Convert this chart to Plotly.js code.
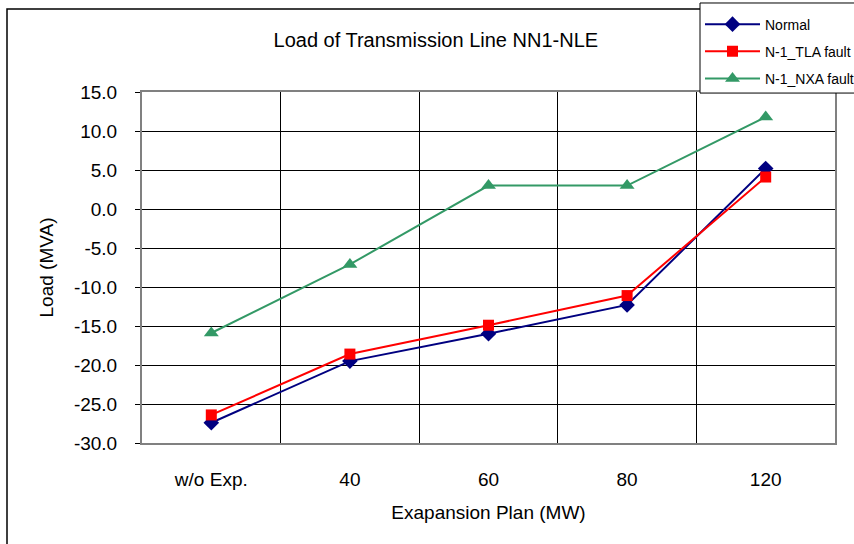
<!DOCTYPE html>
<html>
<head>
<meta charset="utf-8">
<script src="https://cdn.plot.ly/plotly-3.0.1.min.js"></script>
<style>html,body{margin:0;padding:0;background:#fff;}#chart{width:854px;height:544px;}</style>
</head>
<body>
<div id="chart"></div>
<script>
var categories = ["w/o Exp.", "40", "60", "80", "120"];
var normal = [-27.4, -19.5, -16.0, -12.3, 5.2];
var tlaFault = [-26.4, -18.6, -14.9, -11.1, 4.1];
var nxaFault = [-15.9, -7.1, 3.0, 3.0, 11.8];
var yTickVals = [-30, -25, -20, -15, -10, -5, 0, 5, 10, 15];
var yTickText = ["-30.0", "-25.0", "-20.0", "-15.0", "-10.0", "-5.0", "0.0", "5.0", "10.0", "15.0"];

var font = "Liberation Sans, Arial, sans-serif";
var traces = [
  {x: categories, y: normal, name: "Normal", type: "scatter", mode: "lines+markers", legendgroup: "a",
   line: {color: "#000080", width: 2}, marker: {symbol: "diamond", size: 12, color: "#000080"}},
  {x: categories, y: tlaFault, name: "N-1_TLA fault", type: "scatter", mode: "lines+markers", legendgroup: "b",
   line: {color: "#FF0000", width: 2}, marker: {symbol: "square", size: 11, color: "#FF0000"}},
  {x: categories, y: nxaFault, name: "N-1_NXA fault", type: "scatter", mode: "lines+markers", legendgroup: "c",
   line: {color: "#339966", width: 2}, marker: {symbol: "triangle-up", size: 13, color: "#339966"}}
];

var layout = {
  width: 854, height: 544,
  margin: {l: 142, r: 19, t: 92, b: 101, autoexpand: false},
  paper_bgcolor: "#fff", plot_bgcolor: "#fff",
  font: {family: font, size: 19, color: "#000"},
  title: {text: "Load of Transmission Line NN1-NLE", font: {family: font, size: 20, color: "#000"},
          xref: "paper", x: 0.424, xanchor: "center", yref: "container", y: 0.926, yanchor: "middle"},
  xaxis: {type: "category", range: [-0.5, 4.5], tickson: "boundaries", ticks: "", showgrid: true, gridcolor: "#000", gridwidth: 1,
          showline: true, mirror: true, linecolor: "#808080", linewidth: 2,
          ticklabelstandoff: 18, tickfont: {family: font, size: 19, color: "#000"},
          title: {text: "Exapansion Plan (MW)", font: {family: font, size: 19, color: "#000"}, standoff: 17},
          fixedrange: true},
  yaxis: {range: [-30, 15], tickvals: yTickVals, ticktext: yTickText, ticks: "outside", ticklen: 5, tickcolor: "#000",
          showgrid: true, gridcolor: "#000", gridwidth: 1, zeroline: false,
          showline: true, mirror: true, linecolor: "#808080", linewidth: 2,
          ticklabelstandoff: 14, tickfont: {family: font, size: 19, color: "#000"},
          title: {text: "Load (MVA)", font: {family: font, size: 19, color: "#000"}, standoff: 15},
          fixedrange: true},
  showlegend: true,
  legend: {x: 0.8052, y: 1.2377, xanchor: "left", yanchor: "top", bgcolor: "rgba(0,0,0,0)", borderwidth: 0,
           font: {family: font, size: 14, color: "#000"}, traceorder: "grouped", tracegroupgap: 6, itemwidth: 55},
  shapes: [
    {type: "rect", xref: "paper", yref: "paper", x0: -0.1948, x1: 1.3, y0: -0.5, y1: 1.2365,
     line: {color: "#000", width: 1.5}, fillcolor: "rgba(0,0,0,0)", layer: "below"},
    {type: "rect", xref: "paper", yref: "paper", x0: 0.8052, x1: 1.3, y0: 0.997, y1: 1.2536,
     line: {color: "#000", width: 1}, fillcolor: "#fff", layer: "above"}
  ]
};

Plotly.newPlot("chart", traces, layout, {displayModeBar: false, staticPlot: true});
</script>
</body>
</html>
